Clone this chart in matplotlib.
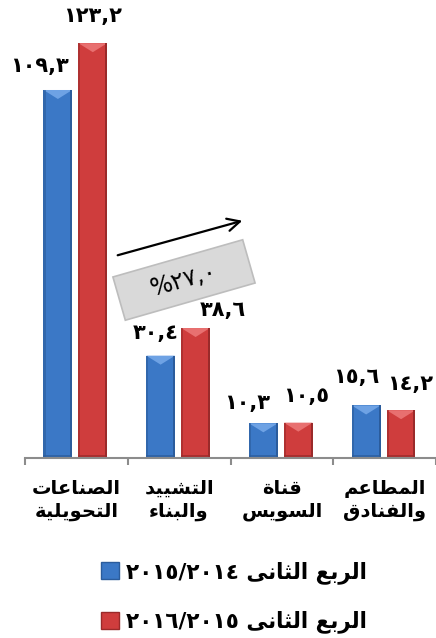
import matplotlib
matplotlib.use("Agg")
import matplotlib.pyplot as plt
import matplotlib.transforms as mtransforms
from matplotlib.patches import Patch, Rectangle, Polygon
import numpy as np

# data
categories = ["الصناعات\nالتحويلية", "التشييد\nوالبناء", "قناة\nالسويس", "المطاعم\nوالفنادق"]
q2_1415 = [109.3, 30.4, 10.3, 15.6]
q2_1516 = [123.2, 38.6, 10.5, 14.2]
series_names = ["الربع الثانى ٢٠١٥/٢٠١٤", "الربع الثانى ٢٠١٦/٢٠١٥"]
growth_text = "%٢٧,٠"

# arabic shaping by hand (matplotlib has no bidi/shaping)
DUAL = {'ب': 0xFE8F, 'ت': 0xFE95, 'ث': 0xFE99, 'ج': 0xFE9D, 'ح': 0xFEA1, 'س': 0xFEB1,
        'ش': 0xFEB5, 'ص': 0xFEB9, 'ط': 0xFEC1, 'ع': 0xFEC9, 'ف': 0xFED1, 'ق': 0xFED5,
        'ك': 0xFED9, 'ل': 0xFEDD, 'م': 0xFEE1, 'ن': 0xFEE5, 'ه': 0xFEE9, 'ي': 0xFEF1}
RIGHT = {'ا': 0xFE8D, 'د': 0xFEA9, 'ذ': 0xFEAB, 'ر': 0xFEAD, 'ز': 0xFEAF, 'و': 0xFEED,
         'ة': 0xFE93, 'ى': 0xFEEF}


def shape_word(w):
    out = []
    i = 0
    while i < len(w):
        c = w[i]
        lp = i > 0 and w[i - 1] in DUAL
        nxt = w[i + 1] if i + 1 < len(w) else ''
        if c == 'ل' and nxt == 'ا':
            out.append(chr(0xFEFC if lp else 0xFEFB))
            i += 2
            continue
        ln = nxt in DUAL or nxt in RIGHT
        if c in DUAL:
            out.append(chr(DUAL[c] + (3 if lp and ln else 1 if lp else 2 if ln else 0)))
        elif c in RIGHT:
            out.append(chr(RIGHT[c] + (1 if lp else 0)))
        elif c == 'ء':
            out.append(chr(0xFE80))
        else:
            out.append(c)
        i += 1
    return ''.join(reversed(out))


def ar(text):
    lines = []
    for line in text.split('\n'):
        words = []
        for w in line.split(' '):
            if any('\u0621' <= ch <= '\u064A' for ch in w):
                words.append(shape_word(w))
            else:
                words.append(w)
        lines.append(' '.join(reversed(words)))
    return '\n'.join(lines)


def ar_num(v):
    return f"{v:.1f}".replace('.', ',').translate(str.maketrans('0123456789', '٠١٢٣٤٥٦٧٨٩'))


W, H = 436, 638
fig = plt.figure(figsize=(W / 100, H / 100), dpi=100)
plt.rcParams['font.family'] = ['DejaVu Sans']

ax = fig.add_axes([25 / W, (H - 458) / H, 411 / W, 458 / H])
ax.set_xlim(-0.5, -0.5 + 411 / 104)
ax.set_ylim(0, 458 / 3.367)

x = np.arange(len(categories))
bw = 0.28
blue, blue_hi, blue_dk = '#3b78c6', '#6ea2e4', '#2b5c9c'
red, red_hi, red_dk = '#cf3d3d', '#e87070', '#9a2a2a'

b1 = ax.bar(x - 0.18, q2_1415, bw, color=blue, zorder=2)
b2 = ax.bar(x + 0.16, q2_1516, bw, color=red, zorder=2)

# fake bevel look on each bar
bevel = 9 / 3.367
for bars, hi, dk in [(b1, blue_hi, blue_dk), (b2, red_hi, red_dk)]:
    for p in bars:
        bx, w, h = p.get_x(), p.get_width(), p.get_height()
        ax.add_patch(Polygon([(bx, h), (bx + w, h), (bx + w / 2, h - bevel)],
                             closed=True, color=hi, zorder=3, lw=0))
        ax.add_patch(Rectangle((bx, 0), w * 0.07, h, color=dk, alpha=0.6, zorder=3, lw=0))
        ax.add_patch(Rectangle((bx + w * 0.93, 0), w * 0.07, h, color=dk, zorder=3, lw=0))
        ax.add_patch(Rectangle((bx, 0), w, 0.8, color=dk, alpha=0.7, zorder=3, lw=0))

# value labels, nudged by hand like the original
offsets = [[(-18, 24), (0, 27)], [(-5, 23), (27, 18)], [(-16, 20), (8, 27)], [(-10, 28), (9, 26)]]
for i in range(len(categories)):
    for j, bars in enumerate([b1, b2]):
        p = bars[i]
        ax.annotate(ar_num(p.get_height()), (p.get_x() + p.get_width() / 2, p.get_height()),
                    xytext=offsets[i][j], textcoords='offset pixels',
                    ha='center', va='center', fontsize=15, fontweight='bold')

for s in ['top', 'left', 'right']:
    ax.spines[s].set_visible(False)
ax.spines['bottom'].set_color('#8c8c8c')
ax.spines['bottom'].set_linewidth(1.5)
ax.spines['bottom'].set_zorder(4)
ax.set_yticks([])
ax.set_xticks(x)
ax.set_xticklabels([ar(c) for c in categories], fontsize=14, fontweight='bold', linespacing=1.25)
ax.set_xticks(np.arange(-0.5, len(categories), 1), minor=True)
ax.tick_params(axis='x', which='major', length=0, pad=15)
ax.tick_params(axis='x', which='minor', length=5, width=1.5, color='#8c8c8c')

# growth arrow + tilted box
ax.annotate('', xy=(245 / W, 1 - 220 / H), xytext=(115 / W, 1 - 256 / H),
            xycoords='figure fraction', textcoords='figure fraction',
            arrowprops=dict(arrowstyle='->,head_length=0.9,head_width=0.45', lw=1.6, color='black'))
bw_px, bh_px = 135, 45
cx, cy = 184, H - 280
fig.patches.append(Rectangle((cx - bw_px / 2, cy - bh_px / 2), bw_px, bh_px, angle=16,
                             rotation_point='center', transform=mtransforms.IdentityTransform(),
                             fc='#d9d9d9', ec='#bdbdbd', lw=1.2, figure=fig))
fig.text(cx / W, cy / H, growth_text, rotation=16, rotation_mode='anchor',
         ha='center', va='center', fontsize=17)

# legend
handles = [Patch(facecolor=blue, edgecolor=blue_dk), Patch(facecolor=red, edgecolor=red_dk)]
fig.legend(handles, [ar(s) for s in series_names], loc='upper left',
           bbox_to_anchor=(101 / W, 1 - 561 / H), frameon=False,
           prop={'size': 15.5, 'weight': 'bold'}, handlelength=0.82, handleheight=0.82,
           handletextpad=0.35, labelspacing=1.25, borderpad=0, borderaxespad=0)

fig.savefig('out.png', dpi=100)
